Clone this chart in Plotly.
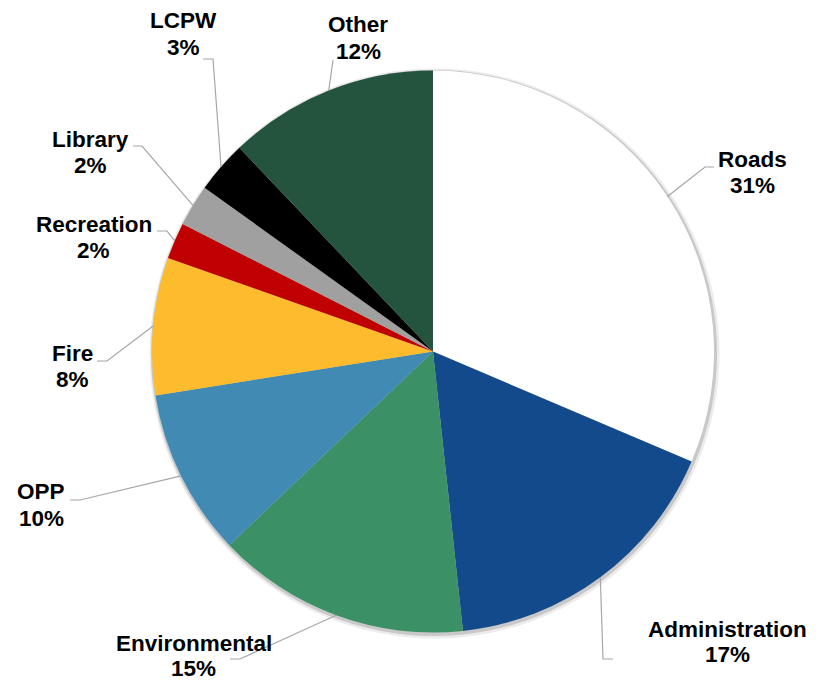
import math
import plotly.graph_objects as go

# ---- data ----
categories = ["Roads", "Administration", "Environmental", "OPP", "Fire",
              "Recreation", "Library", "LCPW", "Other"]
values = [31.4, 16.9, 14.6, 9.6, 7.9, 2.1, 2.4, 3.0, 12.1]
colors = ["#FFFFFF", "#134A8C", "#3C9066", "#418AB3", "#FDBB2D",
          "#C00000", "#A0A0A0", "#000000", "#24543D"]

# ---- layout (screen pixels) ----
PAGE_OFF = 8            # default body margin of the html page
W, H = 812, 672
CX, CY, R = 433, 351.5, 281
# (x centre, y of first line, y of second line)
label_pos = [(752, 159.5, 185.5), (727.5, 629, 654), (193.5, 643.5, 668.5),
             (41, 491.5, 518.5), (72.5, 353.5, 379), (93.5, 224.5, 250),
             (90, 140, 165.5), (183.5, 20.5, 47.5), (358, 24.5, 51)]
elbows = [[(705, 167), (714, 167)], [(603, 659), (613, 659)],
          [(240, 659), (230, 659)], [(80, 500), (70, 500)],
          [(107, 361), (97, 361)], [(167, 231), (157, 231)],
          [(142, 146), (133, 146)], [(213, 59), (203, 59)], [(333, 60)]]


def fx(px):
    return (px - PAGE_OFF) / W


def fy(py):
    return 1 - (py - PAGE_OFF) / H


fig = go.Figure()

# soft shadow rings behind the pie
for grow, dx, dy, col in [(4, 1.5, 2, "#ececec"), (2, 1, 1.5, "#c9c9c9")]:
    fig.add_trace(go.Pie(
        values=[1], labels=["shadow"], marker=dict(colors=[col], line=dict(width=0)),
        textinfo="none", hoverinfo="skip", sort=False, showlegend=False,
        domain=dict(x=[fx(CX - R - grow + dx), fx(CX + R + grow + dx)],
                    y=[fy(CY + R + grow + dy), fy(CY - R - grow + dy)])))

fig.add_trace(go.Pie(
    labels=categories, values=values,
    marker=dict(colors=colors, line=dict(width=0)),
    textinfo="none", sort=False, direction="clockwise", rotation=0,
    showlegend=False, hoverinfo="label+percent",
    domain=dict(x=[fx(CX - R), fx(CX + R)], y=[fy(CY + R), fy(CY - R)])))

font = dict(family="Liberation Sans, Arial, sans-serif", size=22.5,
            color="#000000", weight="bold")
total = sum(values)
cum = 0
shapes = []
annotations = []
for i, (cat, v) in enumerate(zip(categories, values)):
    mid = (cum + v / 2) / total
    cum += v
    th = 2 * math.pi * mid
    ex = CX + R * math.sin(th)
    ey = CY - R * math.cos(th)
    pts = [(ex, ey)] + elbows[i]
    path = "M " + " L ".join(f"{fx(x):.5f},{fy(y):.5f}" for x, y in pts)
    shapes.append(dict(type="path", path=path, xref="paper", yref="paper",
                       line=dict(color="#A6A6A6", width=1.2)))
    pct = round(v / total * 100)
    lx, ly1, ly2 = label_pos[i]
    for txt, ly in [(cat, ly1), (f"{pct}%", ly2)]:
        annotations.append(dict(
            x=fx(lx), y=fy(ly), xref="paper", yref="paper",
            text=txt, showarrow=False,
            xanchor="center", yanchor="middle", align="center", font=font))

fig.update_layout(
    width=W, height=H,
    margin=dict(l=0, r=0, t=0, b=0),
    paper_bgcolor="white", plot_bgcolor="white",
    shapes=shapes, annotations=annotations,
)

fig.write_html("out.html")
